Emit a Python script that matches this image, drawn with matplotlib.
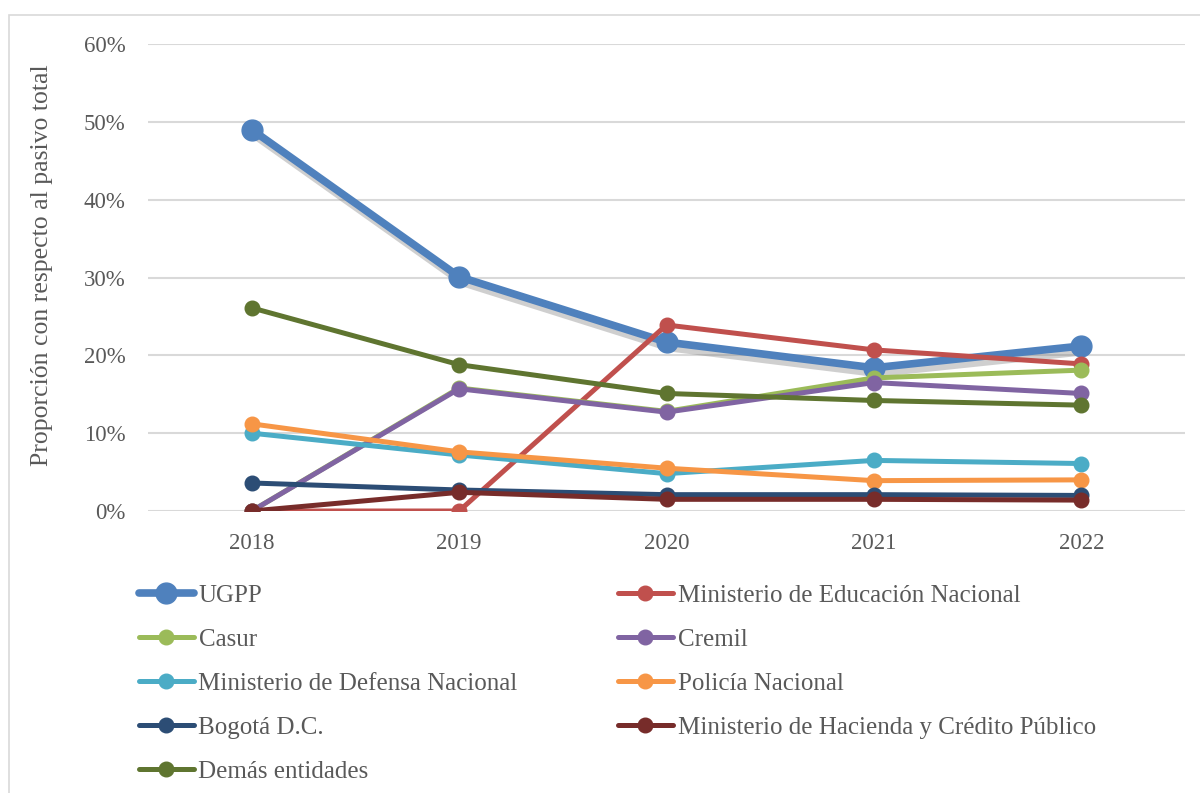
import numpy as np
import matplotlib.pyplot as plt
import matplotlib.patheffects as pe
from matplotlib.lines import Line2D
from matplotlib.patches import Rectangle
from matplotlib.ticker import FuncFormatter

plt.rcParams['font.family'] = ['Liberation Serif', 'DejaVu Serif']

# %% Data (proporción del pasivo total)
years = ['2018', '2019', '2020', '2021', '2022']
ugpp = [0.490, 0.301, 0.217, 0.184, 0.212]
educacion = [0.000, 0.000, 0.239, 0.207, 0.189]
casur = [0.000, 0.158, 0.128, 0.171, 0.181]
cremil = [0.000, 0.157, 0.127, 0.165, 0.151]
defensa = [0.100, 0.072, 0.048, 0.065, 0.061]
policia = [0.112, 0.076, 0.055, 0.039, 0.040]
bogota = [0.036, 0.027, 0.021, 0.021, 0.020]
hacienda = [0.000, 0.024, 0.015, 0.015, 0.014]
demas = [0.261, 0.188, 0.151, 0.142, 0.136]

names = ['UGPP', 'Ministerio de Educación Nacional', 'Casur', 'Cremil',
         'Ministerio de Defensa Nacional', 'Policía Nacional', 'Bogotá D.C.',
         'Ministerio de Hacienda y Crédito Público', 'Demás entidades']
series = [ugpp, educacion, casur, cremil, defensa, policia, bogota, hacienda, demas]
colors = ['#4F81BD', '#C0504D', '#9BBB59', '#8064A2', '#4BACC6',
          '#F79646', '#2C4D75', '#772C2A', '#5F7530']

# %% Plot
fig = plt.figure(figsize=(12, 7.93), dpi=100)
fig.patches.append(Rectangle((9 / 1200, -0.1), 1.2, 1 - 15 / 793 + 0.1,
                             transform=fig.transFigure, fill=False,
                             edgecolor='#D9D9D9', linewidth=1.2))

ax = fig.add_axes([148 / 1200, 1 - 511 / 793, (1185 - 148) / 1200, (511 - 44) / 793])
x = np.arange(len(years))

handles = {}
for i, (name, vals, c) in enumerate(zip(names, series, colors)):
    if i == 0:
        lw, ms = 5.5, 15
        # line with soft shadow, markers drawn on top
        ax.plot(x, vals, color=c, linewidth=lw, zorder=3, solid_capstyle='round',
                path_effects=[pe.SimpleLineShadow(offset=(2, -4), shadow_color='#777777', alpha=0.35),
                              pe.Normal()])
        ax.plot(x, vals, linestyle='none', marker='o', markersize=ms, color=c, zorder=3)
    else:
        lw, ms = 3.6, 10.5
        ax.plot(x, vals, color=c, linewidth=lw, marker='o', markersize=ms,
                zorder=3 + i, solid_capstyle='round')
    handles[name] = Line2D([], [], color=c, linewidth=lw, marker='o',
                           markersize=ms, solid_capstyle='round')

ax.set_xlim(-0.5, 4.5)
ax.set_ylim(0, 0.6)
ax.set_yticks(np.arange(0, 0.61, 0.1))
ax.yaxis.set_major_formatter(FuncFormatter(lambda v, p: '%d%%' % round(v * 100)))
ax.set_xticks(x)
ax.set_xticklabels(years)
ax.grid(True, axis='y', color='#D9D9D9', linewidth=1.5)
ax.set_axisbelow(True)
for s in ax.spines.values():
    s.set_visible(False)
ax.tick_params(axis='both', length=0, labelsize=16.5, labelcolor='#595959')
ax.tick_params(axis='y', pad=16)
ax.tick_params(axis='x', pad=16)
ax.set_ylabel('Proporción con respecto al pasivo total', fontsize=18.5, color='#595959')
ax.yaxis.set_label_coords(-0.102, 0.527)
ax.yaxis.label.set_verticalalignment('center')

# legend fills column by column -> reorder so rows read like the reference
order = [0, 2, 4, 6, 8, 1, 3, 5, 7]
leg = fig.legend([handles[names[k]] for k in order], [names[k] for k in order],
                 loc='upper left', bbox_to_anchor=(116 / 1200, 1 - 562 / 793),
                 ncol=2, frameon=False, fontsize=18, labelcolor='#595959',
                 handlelength=2.2, handletextpad=0.2, columnspacing=4.0,
                 labelspacing=0.86)

fig.savefig('out.png', dpi=100)
